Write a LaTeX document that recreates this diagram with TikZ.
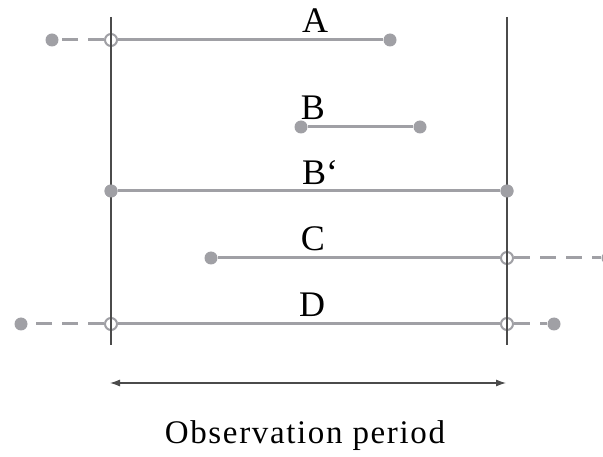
\documentclass[tikz,border=0pt]{standalone}
\usepackage{fontspec}
\setmainfont{Liberation Serif}
\newfontfamily\obsfont[LetterSpace=5]{Liberation Serif}
\usetikzlibrary{arrows.meta}
\definecolor{segc}{RGB}{160,160,165}
\definecolor{axisc}{RGB}{75,75,75}
\begin{document}
\begin{tikzpicture}[x=1pt,y=-1pt,
  seg/.style={draw=segc,line width=3pt},
  dashseg/.style={seg,dash pattern=on 16pt off 10pt},
  dot/.style={circle,fill=segc,inner sep=0pt,minimum size=13pt},
  hollow/.style={circle,draw=segc,line width=2pt,fill=white,inner sep=0pt,minimum size=12pt},
  vline/.style={draw=axisc,line width=1.3pt},
  lab/.style={font=\fontsize{36}{36}\selectfont,anchor=base,inner sep=0pt},
  obs/.style={font=\obsfont\fontsize{33}{33}\selectfont,anchor=base,inner sep=0pt}]
\useasboundingbox[fill=white] (0,0) rectangle (603,457);
% observation window
\coordinate (Ltop) at (111,17);
\coordinate (Lbot) at (111,345);
\coordinate (Rtop) at (507,17);
\coordinate (Rbot) at (507,345);
% A
\node[hollow] (A1) at (111,40) {};
\node[dot] (A0) at (52,40) {};
\node[dot] (A2) at (390,40) {};
\draw[seg] (A1) -- (A2);
\draw[dashseg] (A1) -- (A0);
% B
\node[dot] (B1) at (301,127) {};
\node[dot] (B2) at (420,127) {};
\draw[seg] (B1) -- (B2);
% B'
\node[dot] (Bp1) at (111,191) {};
\node[dot] (Bp2) at (507,191) {};
\draw[seg] (Bp1) -- (Bp2);
% C
\node[dot] (C1) at (211,258) {};
\node[hollow] (C2) at (507,258) {};
\node[dot] (C3) at (608,258) {};
\draw[seg] (C1) -- (C2);
\draw[dashseg] (C2) -- (C3);
% D
\node[dot] (D0) at (21,324) {};
\node[hollow] (D1) at (111,324) {};
\node[hollow] (D2) at (507,324) {};
\node[dot] (D3) at (554,324) {};
\draw[seg] (D1) -- (D2);
\draw[dashseg] (D1) -- (D0);
\draw[dashseg] (D2) -- (D3);
% vertical lines
\draw[vline] (Ltop) -- (Lbot);
\draw[vline] (Rtop) -- (Rbot);
% redraw filled dots on top of vertical lines
\node[dot] at (Bp1) {};
\node[dot] at (Bp2) {};
% labels
\node[lab] (la) at (315,33) {A};
\node[lab] (lb) at (313,120) {B};
\node[lab] (lbp) at (320,185) {B‘};
\node[lab] (lc) at (313,251) {C};
\node[lab] (ld) at (312,317) {D};
% observation period arrow
\coordinate (P1) at (110,383);
\coordinate (P2) at (506,383);
\draw[axisc,line width=1.1pt,{Latex[length=10pt,width=7pt]}-{Latex[length=10pt,width=7pt]}] (P1) -- (P2);
\node[obs] (lobs) at (305,443) {Observation period};
\end{tikzpicture}
\end{document}
